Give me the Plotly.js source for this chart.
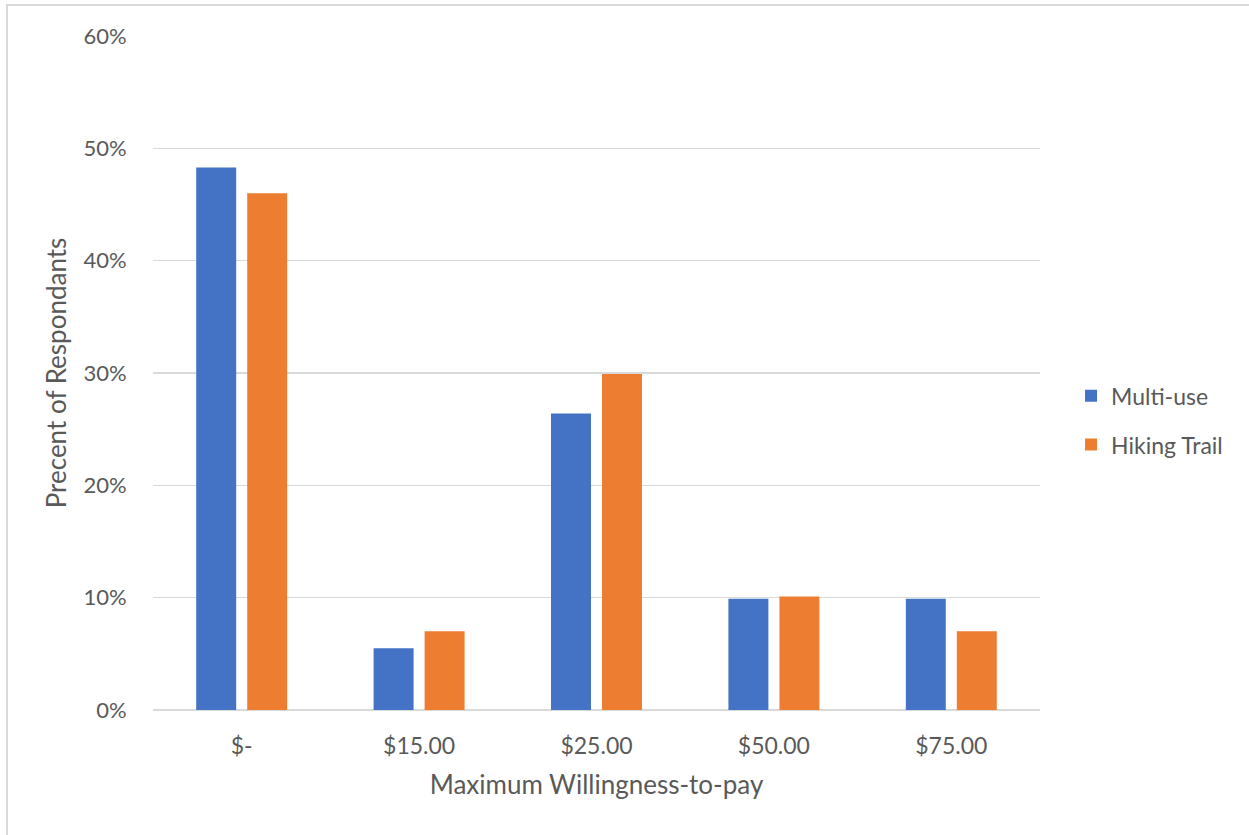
<!DOCTYPE html>
<html>
<head>
<meta charset="utf-8">
<script src="https://cdn.plot.ly/plotly-3.0.1.min.js"></script>
<style>
  html, body { margin: 0; padding: 0; background: #ffffff; }
  #chart { width: 1249px; height: 835px; position: absolute; left: 0; top: 0; }
  #frame {
    position: absolute; left: 6px; top: 4px; width: 1300px; height: 900px;
    border-left: 2px solid #d9d9d9; border-top: 2px solid #d9d9d9;
    pointer-events: none;
  }
</style>
</head>
<body>
<div id="chart"></div>
<div id="frame"></div>
<script>
// Maximum willingness-to-pay, share of respondents per trail type
const categories = ['$-', '$15.00', '$25.00', '$50.00', '$75.00'];
const multiUse = [0.483, 0.055, 0.264, 0.099, 0.099];
const hikingTrail = [0.460, 0.070, 0.299, 0.101, 0.070];
const seriesNames = ['Multi-use', 'Hiking Trail'];
const yTicks = [0, 0.1, 0.2, 0.3, 0.4, 0.5, 0.6];
const yTickLabels = ['0%', '10%', '20%', '30%', '40%', '50%', '60%'];

const fontFamily = 'Lato, "Open Sans", sans-serif';
const textColor = '#595959';

const traces = [
  {
    type: 'bar', name: seriesNames[0], x: categories, y: multiUse,
    marker: { color: '#4472C4', line: { width: 0 } }, legendgroup: 'a',
    hoverinfo: 'skip'
  },
  {
    type: 'bar', name: seriesNames[1], x: categories, y: hikingTrail,
    marker: { color: '#ED7D31', line: { width: 0 } }, legendgroup: 'b',
    hoverinfo: 'skip'
  }
];

const layout = {
  width: 1249, height: 835,
  margin: { l: 153, r: 209, t: 36, b: 125 },
  paper_bgcolor: '#ffffff', plot_bgcolor: '#ffffff',
  font: { family: fontFamily, color: textColor, size: 23 },
  barmode: 'group', bargap: 0.425, bargroupgap: 0.216,
  showlegend: true,
  legend: {
    x: 1.035, xanchor: 'left', y: 0.43, yanchor: 'middle',
    font: { family: fontFamily, size: 23, color: textColor },
    tracegroupgap: 16, bgcolor: 'rgba(0,0,0,0)'
  },
  xaxis: {
    type: 'category', showgrid: false, zeroline: false, showline: false,
    ticks: 'outside', ticklen: 15, tickcolor: 'rgba(0,0,0,0)',
    tickfont: { family: fontFamily, size: 23, color: textColor },
    title: { text: 'Maximum Willingness-to-pay', standoff: 18,
             font: { family: fontFamily, size: 26, color: textColor } }
  },
  yaxis: {
    range: [0, 0.6], tickvals: yTicks, ticktext: yTickLabels,
    showgrid: true, gridcolor: '#d9d9d9', gridwidth: 1.5,
    zeroline: true, zerolinecolor: '#d9d9d9', zerolinewidth: 1.5,
    showline: false, ticks: 'outside', ticklen: 21, tickcolor: 'rgba(0,0,0,0)',
    tickfont: { family: fontFamily, size: 22, color: textColor },
    title: { text: 'Precent of Respondants', standoff: 9,
             font: { family: fontFamily, size: 26, color: textColor } }
  }
};

Plotly.newPlot('chart', traces, layout, { displayModeBar: false, staticPlot: true });
</script>
</body>
</html>
